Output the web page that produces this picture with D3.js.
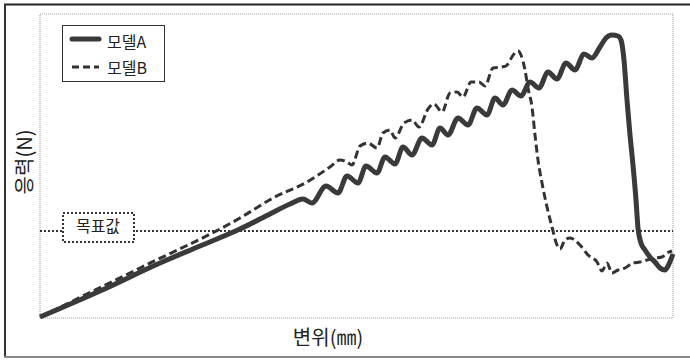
<!DOCTYPE html>
<html>
<head>
<meta charset="utf-8">
<script src="https://cdn.jsdelivr.net/npm/d3@7"></script>
<style>
  body { margin: 0; background: #fff; }
  svg { display: block; font-family: "Noto Sans CJK KR", "Noto Sans", sans-serif; }
</style>
</head>
<body>
<div id="chart"></div>
<script>
// displacement / force in plot units (no ticks on the original)
var dispA = [0,60,120,160,200,230,250,263,272,286,298,307,318,326,337,345,355,363,372,382,392,400,408,418,428,437,447,455,463,472,481,490,499,508,517,526,535,544,552,560,566,572,578,581,584,587,590,593,596,598,601,605,610,615,620,625,629,633];
var forceA = [1,27,55,72,89,104,114,119,115,132,125,142,135,152,145,161,154,171,163,180,173,190,183,200,193,210,203,220,213,228,222,236,230,246,239,255,248,264,260,271,280,283,282,278,258,218,183,153,118,90,75,68,61,56,50,48,54,64];

var dispB = [0,100,200,233,267,290,300,307,312,320,328,337,343,350,355,364,372,379,388,394,402,410,417,423,431,439,445,453,462,466,474,478,481,485,488,492,495,498,502,507,512,517,520,525,530,540,548,557,562,567,572,578,585,593,600,607,615,622,627,632];
var forceB = [1,50,100,120,136,151,158,156,153,172,175,170,185,188,180,195,198,191,209,214,206,225,226,221,236,236,232,250,251,252,264,267,263,248,230,211,183,158,135,111,91,73,69,78,80,73,63,56,47,55,45,48,50,55,56,58,60,61,65,67];

var targetForce = 87;
var seriesNames = ['모델A', '모델B'];

var width = 690, height = 360;
var svg = d3.select('#chart').append('svg')
  .attr('width', width)
  .attr('height', height);

var x = d3.scaleLinear().domain([0, 633]).range([40, 673]);
var y = d3.scaleLinear().domain([0, 304]).range([318, 14]);

// outer frame
svg.append('line').attr('x1', 4).attr('x2', 690).attr('y1', 4.5).attr('y2', 4.5)
  .style('stroke', '#222').style('stroke-width', 2);
svg.append('line').attr('x1', 5).attr('x2', 5).attr('y1', 4).attr('y2', 357)
  .style('stroke', '#333').style('stroke-width', 2);
svg.append('line').attr('x1', 4).attr('x2', 690).attr('y1', 357).attr('y2', 357)
  .style('stroke', '#888').style('stroke-width', 2);

// plot area border (dotted)
svg.append('rect')
  .attr('x', x(0)).attr('y', y(304))
  .attr('width', x(633) - x(0)).attr('height', y(0) - y(304))
  .style('fill', 'none').style('stroke', '#999')
  .style('stroke-width', 1).style('stroke-dasharray', '1,1');

// target line
svg.append('line')
  .attr('x1', x(0)).attr('x2', x(633))
  .attr('y1', y(targetForce)).attr('y2', y(targetForce))
  .style('stroke', '#333').style('stroke-width', 2)
  .style('stroke-dasharray', '2,2');

svg.append('rect')
  .attr('x', 63).attr('y', 213).attr('width', 71).attr('height', 29)
  .style('fill', '#fff').style('stroke', '#333')
  .style('stroke-width', 2).style('stroke-dasharray', '2,2');
svg.append('text')
  .attr('x', 98).attr('y', 228)
  .attr('text-anchor', 'middle').attr('dominant-baseline', 'middle')
  .style('font-size', '16px').style('fill', '#222')
  .text('목표값');

var line = d3.line()
  .x(function(d) { return x(d[0]); })
  .y(function(d) { return y(d[1]); })
  .curve(d3.curveMonotoneX);

var dataA = d3.zip(dispA, forceA);
var dataB = d3.zip(dispB, forceB);

svg.append('path')
  .datum(dataB)
  .attr('d', line)
  .style('fill', 'none').style('stroke', '#333')
  .style('stroke-width', 3).style('stroke-dasharray', '8,4');

svg.append('path')
  .datum(dataA)
  .attr('d', line)
  .style('fill', 'none').style('stroke', '#3a3a3a')
  .style('stroke-width', 5).style('stroke-linejoin', 'round');

// legend
var legend = svg.append('g');
legend.append('rect')
  .attr('x', 62.5).attr('y', 25.5).attr('width', 102).attr('height', 56)
  .style('fill', '#fff').style('stroke', '#333').style('stroke-width', 1);
legend.append('line')
  .attr('x1', 72).attr('x2', 99).attr('y1', 39).attr('y2', 39)
  .style('stroke', '#3a3a3a').style('stroke-width', 5).style('stroke-linecap', 'round');
legend.append('line')
  .attr('x1', 72).attr('x2', 99).attr('y1', 67).attr('y2', 67)
  .style('stroke', '#333').style('stroke-width', 3).style('stroke-dasharray', '7,4');
legend.selectAll('text.lg')
  .data(seriesNames)
  .enter().append('text')
  .attr('class', 'lg')
  .attr('x', 107)
  .attr('y', function(d, i) { return 44 + i * 26; })
  .attr('dominant-baseline', 'middle')
  .style('font-size', '16px').style('fill', '#222')
  .text(function(d) { return d; });

// axis titles
svg.append('text')
  .attr('transform', 'translate(27,162) rotate(-90)')
  .attr('text-anchor', 'middle').attr('dominant-baseline', 'middle')
  .style('font-size', '20px').style('fill', '#222')
  .text('응력(N)');

svg.append('text')
  .attr('x', 328).attr('y', 340)
  .attr('text-anchor', 'middle').attr('dominant-baseline', 'middle')
  .style('font-size', '20px').style('fill', '#222')
  .text('변위(㎜)');
</script>
</body>
</html>
